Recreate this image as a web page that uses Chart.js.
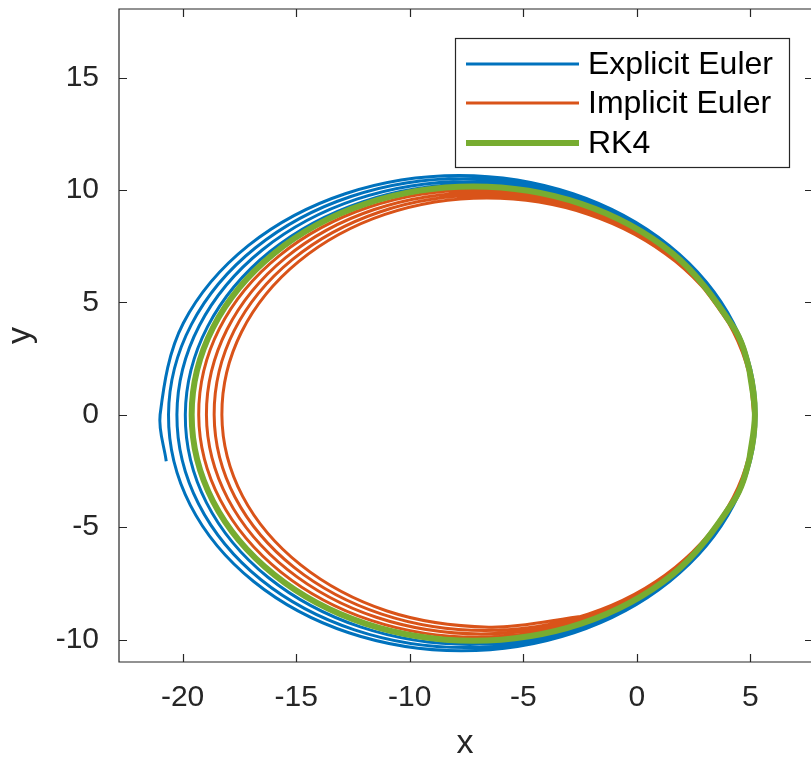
<!DOCTYPE html>
<html>
<head>
<meta charset="utf-8">
<script src="https://cdn.jsdelivr.net/npm/chart.js@4.4.1/dist/chart.umd.min.js"></script>
<style>
  html, body { margin: 0; padding: 0; background: #fff; }
  #wrap { width: 811px; height: 764px; }
</style>
</head>
<body>
<div id="wrap"><canvas id="orbitChart" width="811" height="764"></canvas></div>
<script>
// orbit traces, counter-clockwise from the point on the right (y = 0)
const eulerX = [5.25, 5.01, 4.30, 1.59, -2.47, -7.27, -12.08, -16.16, -18.90, -19.88, -18.95, -16.24, -12.17, -7.36, -2.54, 1.55, 4.29,
  5.25, 4.29, 1.54, -2.59, -7.45, -12.33, -16.48, -19.26, -20.25, -19.30, -16.56, -12.43, -7.55, -2.66, 1.50, 4.27,
  5.25, 4.27, 1.48, -2.70, -7.64, -12.59, -16.79, -19.61, -20.62, -19.66, -16.87, -12.68, -7.73, -2.77, 1.44, 4.26,
  5.25, 4.26, 1.43, -2.81, -7.82, -12.84, -17.11, -19.97, -20.99, -20.72];
const eulerY = [0, 2.00, 3.92, 7.25, 9.47, 10.25, 9.47, 7.25, 3.92, 0, -3.91, -7.23, -9.44, -10.22, -9.44, -7.23, -3.91,
  0, 3.97, 7.34, 9.59, 10.38, 9.59, 7.34, 3.97, 0, -3.96, -7.33, -9.57, -10.36, -9.57, -7.33, -3.96,
  0, 4.02, 7.43, 9.71, 10.51, 9.71, 7.43, 4.02, 0, -4.02, -7.42, -9.70, -10.50, -9.70, -7.42, -4.02,
  0, 4.07, 7.52, 9.83, 10.64, 9.83, 7.52, 4.07, 0, -2.07];

const implicitX = [5.15, 4.91, 4.21, 1.55, -2.43, -7.11, -11.79, -15.75, -18.38, -19.29, -18.34, -15.67, -11.70, -7.03, -2.36, 1.59, 4.23,
  5.15, 4.23, 1.60, -2.32, -6.94, -11.56, -15.46, -18.05, -18.95, -18.01, -15.38, -11.47, -6.86, -2.26, 1.64, 4.24,
  5.15, 4.24, 1.65, -2.22, -6.77, -11.32, -15.17, -17.73, -18.61, -17.69, -15.09, -11.23, -6.69, -2.15, 1.69, 4.25,
  5.15, 4.25, 1.70, -2.11, -6.60, -11.09, -14.88, -17.40, -18.27, -17.36, -14.80, -11.00, -6.52, -2.30];
const implicitY = [0, 1.95, 3.83, 7.07, 9.24, 10.00, 9.24, 7.07, 3.83, 0, -3.79, -7.00, -9.15, -9.90, -9.15, -7.00, -3.79,
  0, 3.78, 6.99, 9.13, 9.88, 9.13, 6.99, 3.78, 0, -3.73, -6.89, -9.01, -9.75, -9.01, -6.89, -3.73,
  0, 3.74, 6.90, 9.02, 9.76, 9.02, 6.90, 3.74, 0, -3.67, -6.79, -8.87, -9.60, -8.87, -6.79, -3.67,
  0, 3.69, 6.82, 8.91, 9.64, 8.91, 6.82, 3.69, 0, -3.62, -6.68, -8.73, -9.45, -8.95];

// closed orbit; first and last points overlap the loop so the curve has no seam
const rk4X = [4.96, 5.20, 4.96, 4.26, 1.57, -2.45, -7.20, -11.95, -15.97, -18.66, -19.60, -18.66, -15.97, -11.95, -7.20, -2.45, 1.57, 4.26, 4.96, 5.20, 4.96];
const rk4Y = [-1.96, 0, 1.98, 3.88, 7.18, 9.38, 10.15, 9.38, 7.18, 3.88, 0, -3.85, -7.11, -9.29, -10.05, -9.29, -7.11, -3.85, -1.96, 0, 1.98];

const seriesNames = ['Explicit Euler', 'Implicit Euler', 'RK4'];
const seriesColors = ['#0072BD', '#D95319', '#77AC30'];

const xTicks = [-20, -15, -10, -5, 0, 5];
const yTicks = [-10, -5, 0, 5, 10, 15];

const FONT = '"Liberation Sans", Arial, sans-serif';
const INK = '#262626';

function pairs(xs, ys) {
  return xs.map((x, i) => ({ x: x, y: ys[i] }));
}

// box around the axes with inward tick marks on all four sides
const boxAxes = {
  id: 'boxAxes',
  afterDraw(chart) {
    const ctx = chart.ctx;
    const a = chart.chartArea;
    const sx = chart.scales.x, sy = chart.scales.y;
    const right = a.right + 2;
    const len = 8;
    ctx.save();
    ctx.strokeStyle = INK;
    ctx.lineWidth = 1.2;
    ctx.beginPath();
    ctx.rect(a.left, a.top, right - a.left, a.bottom - a.top);
    xTicks.forEach(v => {
      const px = Math.round(sx.getPixelForValue(v)) + 0.5;
      ctx.moveTo(px, a.bottom); ctx.lineTo(px, a.bottom - len);
      ctx.moveTo(px, a.top); ctx.lineTo(px, a.top + len);
    });
    yTicks.forEach(v => {
      const py = Math.round(sy.getPixelForValue(v)) + 0.5;
      ctx.moveTo(a.left, py); ctx.lineTo(a.left + len, py);
      ctx.moveTo(right, py); ctx.lineTo(right - len, py);
    });
    ctx.stroke();
    ctx.restore();
  }
};

// legend box in the upper right of the plot
const boxLegend = {
  id: 'boxLegend',
  afterDraw(chart) {
    const ctx = chart.ctx;
    const bx = 455, by = 38, bw = 334, bh = 129;
    const rowY = [64, 103, 143];
    ctx.save();
    ctx.fillStyle = '#fff';
    ctx.fillRect(bx, by, bw, bh);
    ctx.strokeStyle = INK;
    ctx.lineWidth = 1.2;
    ctx.strokeRect(bx + 0.5, by + 0.5, bw, bh);
    ctx.font = '32px ' + FONT;
    ctx.textBaseline = 'middle';
    ctx.fillStyle = '#000';
    chart.data.datasets.forEach((ds, i) => {
      ctx.strokeStyle = ds.borderColor;
      ctx.lineWidth = ds.borderWidth;
      ctx.beginPath();
      ctx.moveTo(466, rowY[i]);
      ctx.lineTo(579, rowY[i]);
      ctx.stroke();
      ctx.fillText(ds.label, 588, rowY[i] + 1);
    });
    ctx.restore();
  }
};

const ctx = document.getElementById('orbitChart').getContext('2d');
const orbitChart = new Chart(ctx, {
  type: 'scatter',
  data: {
    datasets: [
      { label: seriesNames[0], data: pairs(eulerX, eulerY), borderColor: seriesColors[0], borderWidth: 3, order: 2 },
      { label: seriesNames[1], data: pairs(implicitX, implicitY), borderColor: seriesColors[1], borderWidth: 3, order: 1 },
      { label: seriesNames[2], data: pairs(rk4X, rk4Y), borderColor: seriesColors[2], borderWidth: 6, order: 0 }
    ]
  },
  options: {
    responsive: false,
    animation: false,
    devicePixelRatio: 1,
    showLine: true,
    elements: {
      point: { radius: 0, hoverRadius: 0 },
      line: { tension: 0.34, fill: false, borderCapStyle: 'butt' }
    },
    layout: { padding: { top: 9, right: 0, left: 0, bottom: 0 } },
    plugins: { legend: { display: false }, tooltip: { enabled: false } },
    scales: {
      x: {
        type: 'linear',
        min: -22.8,
        max: 7.67,
        grid: { display: false, drawTicks: false },
        border: { display: false },
        afterBuildTicks: s => { s.ticks = xTicks.map(v => ({ value: v })); },
        afterFit: s => { s.height = 102; s.paddingLeft = 0; s.paddingRight = 0; },
        ticks: { color: INK, font: { family: FONT, size: 30 }, padding: 18, maxRotation: 0 },
        title: { display: true, text: 'x', color: INK, font: { family: FONT, size: 34 }, padding: { top: 0, bottom: 0 } }
      },
      y: {
        type: 'linear',
        min: -11,
        max: 18.05,
        grid: { display: false, drawTicks: false },
        border: { display: false },
        afterBuildTicks: s => { s.ticks = yTicks.map(v => ({ value: v })); },
        afterFit: s => { s.width = 119; s.paddingTop = 0; s.paddingBottom = 0; },
        ticks: { color: INK, font: { family: FONT, size: 30 }, padding: 20 },
        title: { display: true, text: 'y', color: INK, font: { family: FONT, size: 34 }, padding: { top: 0, bottom: 0 } }
      }
    }
  },
  plugins: [boxAxes, boxLegend]
});
</script>
</body>
</html>
